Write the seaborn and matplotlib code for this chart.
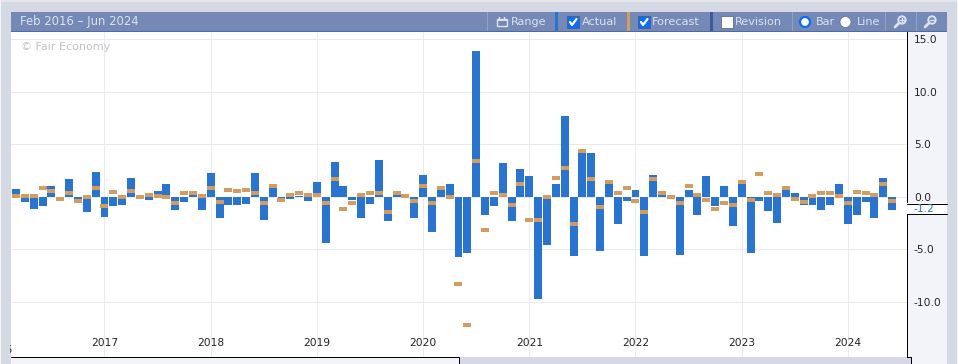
import matplotlib
matplotlib.use("Agg")
import matplotlib.pyplot as plt
from matplotlib.patches import Circle, Rectangle
import pandas as pd
import seaborn as sns

months = pd.date_range("2016-03-01", periods=100, freq="MS")

actual = [
    0.8, -0.45, -1.1, -0.9, 1.0, -0.1, 1.75, -0.4, -1.4, 2.4,
    -1.9, -0.9, -0.8, 1.85, 0.0, -0.25, 0.6, 1.2, -1.2, -0.45,
    0.2, -1.2, 2.3, -2.0, -0.75, -0.75, -0.65, 2.3, -2.15, 1.25,
    -0.2, -0.15, 0.1, -0.35, 1.45, -4.35, 3.35, 1.0, -0.25, -2.05,
    -0.65, 3.55, -2.25, 0.2, 0.1, -2.0, 2.1, -3.3, 0.7, 1.25,
    -5.7, -5.3, 13.9, -1.7, -0.9, 3.2, -2.25, 2.7, 1.95, -9.7,
    -4.55, 1.25, 7.7, -5.6, 4.2, 4.2, -5.1, 1.2, -2.55, -0.35,
    0.7, -5.6, 2.05, 0.2, 0.0, -5.5, 0.7, -1.7, 1.95, -0.9,
    1.0, -2.8, 1.2, -5.3, -0.35, -1.3, -2.45, 0.7, 0.4, -0.8,
    -0.8, -1.2, -0.8, 1.2, -2.55, -1.7, -0.45, -2.0, 1.85, -1.2,
]
forecast = [
    0.1, 0.1, 0.1, 0.9, 0.6, -0.15, 0.4, -0.35, 0.0, 0.9,
    -0.9, 0.5, 0.0, 0.6, -0.05, 0.2, 0.1, -0.05, -0.6, 0.4,
    0.4, 0.1, 0.9, -0.45, 0.7, 0.6, 0.7, 0.4, -0.6, 1.0,
    -0.25, 0.2, 0.4, 0.2, 0.2, -0.6, 1.75, -1.1, -0.6, 0.2,
    0.4, 0.4, -1.4, 0.4, 0.1, -0.35, 1.0, -0.6, 0.9, -0.05,
    -8.3, -12.2, 3.4, -3.1, 0.4, 0.2, -0.75, 1.2, -2.15, -2.15,
    0.0, 1.85, 2.8, -2.55, 4.4, 1.75, -1.0, 1.45, 0.4, 0.9,
    -0.35, -1.4, 1.75, 0.4, 0.0, -0.6, 1.0, 0.2, -0.25, -1.1,
    -0.6, -0.75, 1.4, -0.25, 2.15, 0.4, 0.2, 0.9, -0.15, -0.45,
    0.1, 0.4, 0.4, 0.1, -0.6, 0.5, 0.4, 0.2, 1.2, -0.35,
]
y_ticks = [15, 10, 5, 0, -5, -10]

BLUE = "#2874cf"
ORANGE = "#d39c60"
PAGE = "#d5d9e3"
PANEL = "#f3f4f9"
BAR = "#7489b5"
BAR_TEXT = "#dde2ee"
GRID = "#e8e9f1"
PX = 0.72  # one pixel in points at dpi 100

sns.set_theme(style="whitegrid")
plt.rcParams["font.family"] = ["DejaVu Sans"]

df = pd.DataFrame({"pos": range(len(months)), "actual": actual, "forecast": forecast})

W, H = 958, 364
fig = plt.figure(figsize=(W / 100, H / 100), dpi=100, facecolor=PAGE)


def px_axes(left, top, right, bottom, zorder):
    return fig.add_axes(
        [left / W, 1 - bottom / H, (right - left) / W, (bottom - top) / H],
        zorder=zorder,
    )


# page chrome behind the plot
bg = px_axes(0, 0, W, H, 0)
bg.set_xlim(0, W)
bg.set_ylim(H, 0)
bg.axis("off")
bg.add_patch(Rectangle((0, 0), W, 2, color="#e3e5eb", lw=0))
bg.add_patch(Rectangle((0, 0), 1, H, color="#f4f5f8", lw=0))
bg.add_patch(Rectangle((957, 0), 1, H, color="#f4f5f8", lw=0))
bg.add_patch(Rectangle((907, 32), 40, 325, color=PANEL, lw=0))
bg.add_patch(Rectangle((912, 357), 35, 7, color=PANEL, lw=0))
bg.add_patch(Rectangle((11, 357), 449, 7, color=PANEL, lw=0))

# main plot
ax = px_axes(11, 32, 907, 357, 1)
ax.set_facecolor("white")
sns.barplot(
    data=df, x="pos", y="actual", native_scale=True, color=BLUE,
    saturation=1, width=0.9, linewidth=0, errorbar=None, ax=ax,
)
sns.scatterplot(
    data=df, x="pos", y="forecast", color=ORANGE, s=33, linewidth=0,
    marker=[(-4, -2.4), (4, -2.4), (4, 2.4), (-4, 2.4)], ax=ax, zorder=3,
)
ax.set_xlim(-0.565, 100.68)
ax.set_ylim(-15.24, 15.71)
ax.set_xlabel("")
ax.set_ylabel("")

jan = [i for i, m in enumerate(months) if m.month == 1]
ax.set_xticks(jan)
ax.set_xticklabels([months[i].year for i in jan], fontsize=7.7, color="#222222")
ax.set_yticks(y_ticks)
ax.set_yticklabels([f"{v:.1f}" for v in y_ticks], fontsize=7.7, color="#222222")
ax.yaxis.tick_right()
ax.tick_params(axis="x", length=0, pad=-14)
ax.tick_params(axis="y", length=0, pad=5)
ax.grid(True, color=GRID, linewidth=PX)
ax.set_axisbelow(True)
for side in ["top", "left", "bottom"]:
    ax.spines[side].set_visible(False)
ax.spines["right"].set_color("black")
ax.spines["right"].set_linewidth(PX)

ax.text(
    0.011, 0.953, "© Fair Economy", transform=ax.transAxes, fontsize=8,
    color="#c2c2c2", va="center",
)

# toolbar and the latest value tag sit on top
ui = px_axes(0, 0, W, H, 2)
ui.set_xlim(0, W)
ui.set_ylim(H, 0)
ui.axis("off")
ui.patch.set_alpha(0)

# axis outline below the plot steps in and out
ui.plot([11, 459.5, 459.5], [357, 357, 364], color="black", lw=PX)
ui.plot([907, 911.5, 911.5], [357, 357, 364], color="black", lw=PX)

# 2016 label runs off the left edge, only its tail shows
tail = ui.text(-1.7, 350, str(months[jan[0]].year - 1), fontsize=7.7, color="#222222",
               ha="center", va="center")
tail.set_clip_on(True)
tail.set_clip_path(Rectangle((10, 340), 3, 16, transform=ui.transData))

ui.add_patch(Rectangle((11, 12), 936, 19, color=BAR, lw=0))
ui.add_patch(Rectangle((11, 31), 936, 1, color="#4f6ba5", lw=0))
for x in [487, 792, 885, 916]:
    ui.add_patch(Rectangle((x, 12), 1, 19, color="#8fa2c8", lw=0))
for x, c in [(555, BLUE), (627, ORANGE), (710, "#3a5a9c")]:
    ui.add_patch(Rectangle((x, 12), 3, 19, color=c, lw=0))


def bar_text(x, s, size=8.1):
    ui.text(x, 22, s, fontsize=size, color=BAR_TEXT, va="center")


def check_box(x, checked):
    ui.add_patch(Rectangle(
        (x, 16), 12, 12, facecolor="#0b6cf5" if checked else "white",
        edgecolor="#4a5a7a", lw=0.5,
    ))
    if checked:
        ui.plot([x + 3, x + 5, x + 9.5], [22, 25, 19], color="white", lw=1.6)


bar_text(20, "Feb 2016 – Jun 2024", size=8.35)
bar_text(511, "Range")
bar_text(582, "Actual")
bar_text(652, "Forecast")
bar_text(735, "Revision")
bar_text(816, "Bar")
bar_text(857, "Line")

# calendar icon
ui.add_patch(Rectangle((497, 18.5), 10, 7.5, fill=False, edgecolor=BAR_TEXT, lw=1))
ui.add_patch(Rectangle((497, 18.5), 10, 2.5, color=BAR_TEXT, lw=0))
ui.plot([499.5, 499.5], [16.5, 18.5], color=BAR_TEXT, lw=1)
ui.plot([504.5, 504.5], [16.5, 18.5], color=BAR_TEXT, lw=1)

check_box(567, True)
check_box(638, True)
check_box(721, False)

ui.add_patch(Circle((805, 22), 5, facecolor="white", edgecolor="#0b6cf5", lw=1.6))
ui.add_patch(Circle((845.5, 22), 5.5, facecolor="white", edgecolor="#5a6a8a", lw=0.5))

# zoom icons
for cx, sign in [(902, "+"), (932, "-")]:
    ui.add_patch(Circle((cx, 20), 3.7, fill=False, edgecolor=BAR_TEXT, lw=1.4))
    ui.plot([cx - 3, cx - 7], [23, 27], color=BAR_TEXT, lw=2)
    ui.plot([cx - 2, cx + 2], [20, 20], color=BAR_TEXT, lw=1)
    if sign == "+":
        ui.plot([cx, cx], [18, 22], color=BAR_TEXT, lw=1)

# latest actual value tag
ui.add_patch(Rectangle((907, 203), 40, 11, facecolor="white", edgecolor="none"))
ui.plot([907, 947], [203.5, 203.5], color="black", lw=PX)
ui.plot([907, 947], [214, 214], color="black", lw=PX)
ui.text(913, 209, f"{actual[-1]:.1f}", fontsize=7.7, color=BLUE, va="center")

fig.savefig("out.png", dpi=100, facecolor=PAGE)
